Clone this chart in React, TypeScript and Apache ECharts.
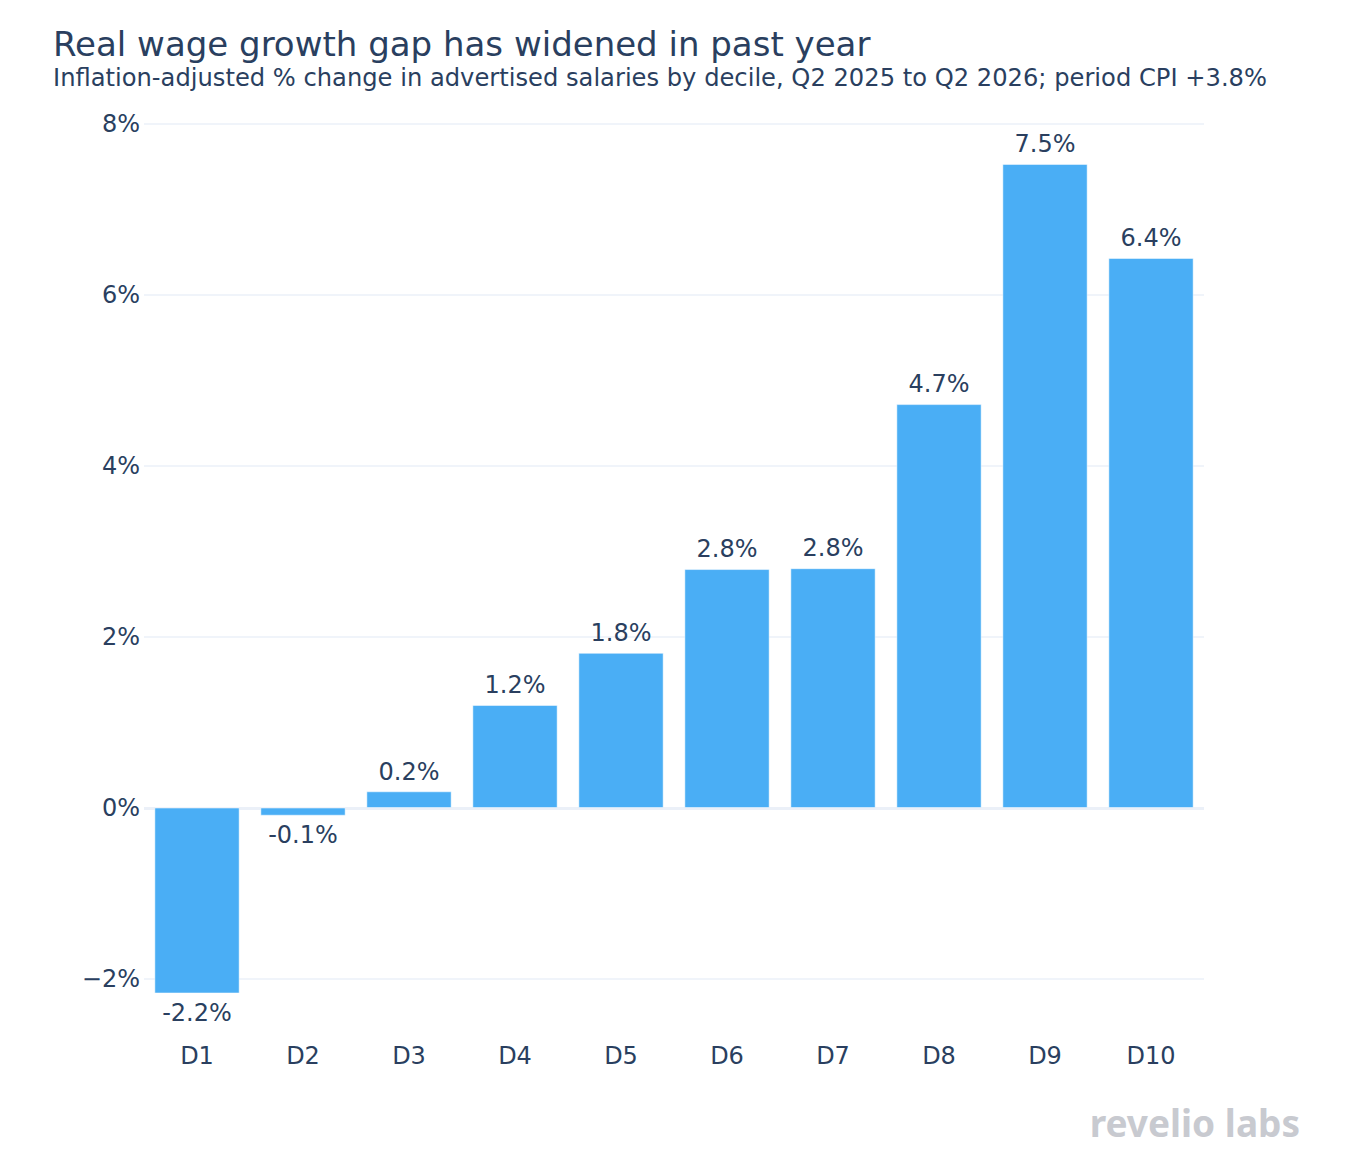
import React, { useEffect, useRef } from "react";
import * as echarts from "echarts";

// Deciles of advertised salary and their real (CPI-adjusted) change, in %
const deciles = ["D1", "D2", "D3", "D4", "D5", "D6", "D7", "D8", "D9", "D10"];
const realWageChange = [-2.17, -0.09, 0.19, 1.2, 1.81, 2.79, 2.8, 4.72, 7.53, 6.43];

const titleText = "Real wage growth gap has widened in past year";
const subtitleText =
  "Inflation-adjusted % change in advertised salaries by decile, Q2 2025 to Q2 2026; period CPI +3.8%";
const brandText = "revelio labs";

const FONT = "'DejaVu Sans', Verdana, sans-serif";
const INK = "#2a3f5f";
const GRID = "#ebf0f8";
const BAR = "#4aaef5";

export default function App() {
  const ref = useRef<HTMLDivElement>(null);

  useEffect(() => {
    document.body.style.margin = "0";
    if (!ref.current) return;
    const chart = echarts.init(ref.current, undefined, { renderer: "svg" });

    const barData = realWageChange.map((v) => ({
      value: v,
      label: { position: v < 0 ? "bottom" : "top" },
    }));

    chart.setOption({
      animation: false,
      backgroundColor: "#ffffff",
      textStyle: { fontFamily: FONT, color: INK },
      grid: { left: 144, right: 154, top: 124, bottom: 130, containLabel: false },
      graphic: [
        {
          type: "text",
          left: 53,
          top: 27,
          style: { text: titleText, font: `34px ${FONT}`, fill: INK },
        },
        {
          type: "text",
          left: 53,
          top: 66,
          style: { text: subtitleText, font: `24.2px ${FONT}`, fill: INK },
        },
        {
          type: "text",
          right: 58,
          top: 1104,
          style: {
            text: brandText,
            font: `bold 37px 'Noto Sans', sans-serif`,
            fill: "#c8cad0",
          },
        },
      ],
      xAxis: {
        type: "category",
        data: deciles,
        axisLine: { show: false },
        axisTick: { show: false },
        axisLabel: { color: INK, fontSize: 24, fontFamily: FONT, margin: 14 },
      },
      yAxis: {
        type: "value",
        min: -2.6,
        max: 8,
        minInterval: 2,
        maxInterval: 2,
        axisLine: { show: false },
        axisTick: { show: false },
        axisLabel: {
          color: INK,
          fontSize: 24,
          fontFamily: FONT,
          margin: 4,
          showMinLabel: false,
          formatter: (v: number) => (v < 0 ? "\u2212" + Math.abs(v) : String(v)) + "%",
        },
        splitLine: { show: true, showMinLine: false, lineStyle: { color: GRID, width: 1.5 } },
      },
      series: [
        {
          type: "bar",
          data: barData,
          barCategoryGap: "20%",
          itemStyle: { color: BAR, borderColor: "#ffffff", borderWidth: 0.5 },
          label: {
            show: true,
            fontSize: 24,
            fontFamily: FONT,
            color: INK,
            distance: 8,
            formatter: (p: any) => p.value.toFixed(1) + "%",
          },
          markLine: {
            silent: true,
            symbol: "none",
            label: { show: false },
            lineStyle: { color: GRID, width: 3, type: "solid" },
            data: [{ yAxis: 0 }],
            z: 1,
          },
        },
      ],
    });

    return () => chart.dispose();
  }, []);

  return <div ref={ref} style={{ width: 1358, height: 1160 }} />;
}
